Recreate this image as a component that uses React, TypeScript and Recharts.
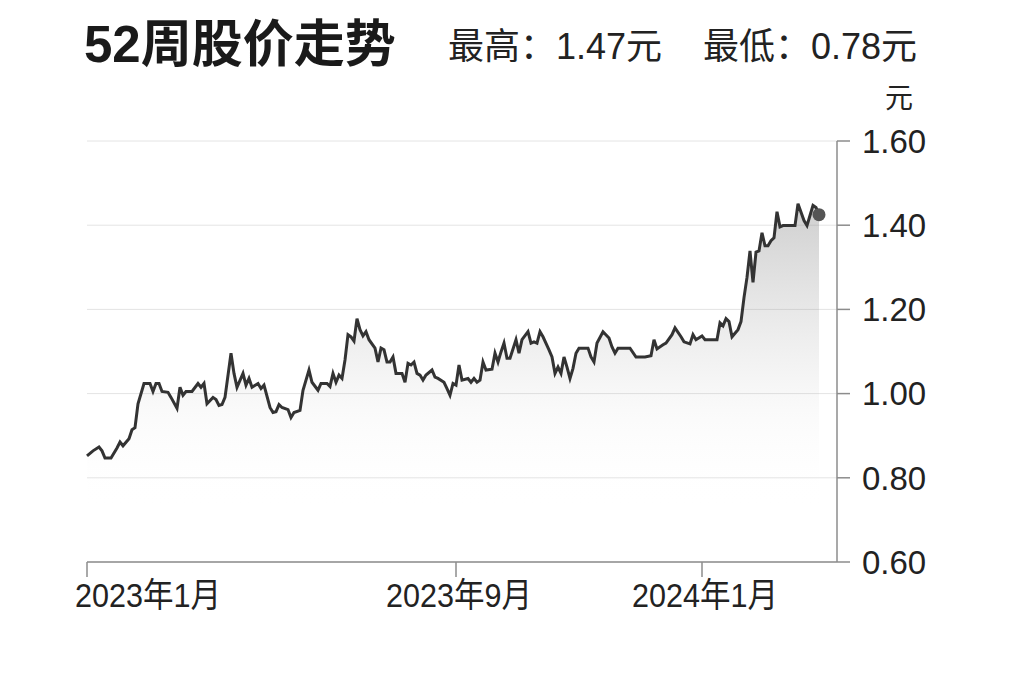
import React from 'react'
import { ComposedChart, Area, XAxis, YAxis, CartesianGrid, ReferenceDot } from 'recharts'

// trading-day index (0 = first session of Jan 2023) and closing price
const days = [
  0, 2, 4, 5, 6, 8, 10, 11, 12, 14, 15, 16, 17, 19, 21, 22, 23, 24, 25, 27, 28, 30, 31, 32, 33, 35, 37, 38, 39, 40,
  42, 43, 44, 45, 46, 48, 49, 50, 52, 53, 54, 55, 57, 58, 59, 61, 62, 63, 64, 65, 67, 68, 69, 71, 72, 73, 74, 75, 77, 78,
  80, 81, 82, 83, 84, 85, 86, 87, 88, 89, 90, 91, 92, 93, 94, 96, 97, 98, 99, 100, 101, 102, 103, 105, 106, 107, 108, 109, 110, 111,
  112, 113, 115, 116, 117, 119, 120, 121, 122, 123, 124, 125, 127, 128, 129, 130, 131, 132, 133, 135, 136, 137, 138, 139, 140, 141, 143, 144, 145, 147,
  148, 149, 150, 151, 152, 154, 155, 156, 157, 158, 159, 160, 161, 162, 163, 164, 165, 167, 168, 169, 170, 172, 174, 175, 176, 177, 179, 181, 183, 184,
  186, 188, 189, 190, 192, 193, 195, 196, 198, 199, 201, 202, 203, 205, 206, 208, 210, 211, 212, 213, 214, 215, 217, 218, 219, 220, 221, 222, 223, 224,
  225, 226, 227, 228, 229, 230, 231, 232, 234, 236, 237, 239, 240, 241, 242, 243, 244,
]

const prices = [
  0.852, 0.864, 0.873, 0.864, 0.847, 0.847, 0.871, 0.885, 0.876, 0.893, 0.914, 0.919, 0.976, 1.024, 1.024, 1.005, 1.024, 1.024, 1.005, 1.003, 0.991, 0.965, 1.015, 0.996, 1.005, 1.005, 1.024, 1.015, 1.024, 0.976,
  0.991, 0.986, 0.972, 0.974, 0.991, 1.096, 1.048, 1.015, 1.048, 1.02, 1.036, 1.015, 1.024, 1.012, 1.02, 0.967, 0.955, 0.957, 0.974, 0.967, 0.962, 0.943, 0.955, 0.96, 1.008, 1.032, 1.056, 1.027, 1.008, 1.024,
  1.024, 1.017, 1.048, 1.027, 1.044, 1.036, 1.08, 1.14, 1.135, 1.125, 1.178, 1.152, 1.137, 1.147, 1.128, 1.108, 1.075, 1.108, 1.104, 1.075, 1.075, 1.087, 1.048, 1.048, 1.027, 1.072, 1.068, 1.075, 1.048, 1.044,
  1.032, 1.044, 1.056, 1.039, 1.036, 1.027, 1.012, 0.996, 1.024, 1.02, 1.068, 1.032, 1.036, 1.027, 1.036, 1.027, 1.032, 1.075, 1.056, 1.058, 1.096, 1.075, 1.099, 1.12, 1.084, 1.084, 1.128, 1.096, 1.128, 1.147,
  1.12, 1.123, 1.12, 1.147, 1.135, 1.104, 1.087, 1.048, 1.063, 1.048, 1.087, 1.063, 1.036, 1.06, 1.096, 1.108, 1.108, 1.108, 1.087, 1.075, 1.12, 1.147, 1.132, 1.111, 1.096, 1.108, 1.108, 1.108, 1.087, 1.087,
  1.087, 1.09, 1.128, 1.106, 1.116, 1.12, 1.14, 1.156, 1.135, 1.123, 1.118, 1.14, 1.128, 1.137, 1.128, 1.128, 1.128, 1.168, 1.161, 1.178, 1.171, 1.135, 1.152, 1.171, 1.228, 1.276, 1.339, 1.264, 1.336, 1.339,
  1.382, 1.351, 1.351, 1.363, 1.37, 1.432, 1.396, 1.399, 1.399, 1.399, 1.451, 1.411, 1.399, 1.423, 1.447, 1.442, 1.425,
]

const tickDays = [0, 123, 205]
const tickLabels = ['2023年1月', '2023年9月', '2024年1月']
const yTicks = [0.6, 0.8, 1.0, 1.2, 1.4, 1.6]

const data = days.map((d, i) => ({ d, v: prices[i] }))
const last = data[data.length - 1]

const FONT = "'Liberation Sans', 'Noto Sans CJK SC', sans-serif"

// the date labels are a condensed face in the original, so squeeze them a little
const DateTick = (props: any) => {
  const { x, y, payload, index } = props
  const first = index === 0
  return (
    <text
      x={first ? x - 12 : x + 3}
      y={y}
      dy="0.71em"
      textAnchor={first ? 'start' : 'middle'}
      fill="#222"
      fontSize={34}
      fontFamily={FONT}
      textLength={146}
      lengthAdjust="spacingAndGlyphs"
    >
      {tickLabels[tickDays.indexOf(payload.value)]}
    </text>
  )
}

export default function App() {
  return (
    <div style={{ position: 'fixed', left: 0, top: 0, width: 1024, height: 682, background: '#fff', fontFamily: FONT }}>
      <div style={{ position: 'absolute', left: 84, top: 17, fontSize: 51, fontWeight: 700, lineHeight: 1.1, color: '#1a1a1a' }}>
        52周股价走势
      </div>
      <div style={{ position: 'absolute', left: 448, top: 27, fontSize: 36, lineHeight: 1.1, color: '#222' }}>
        最高：1.47元
      </div>
      <div style={{ position: 'absolute', left: 703, top: 27, fontSize: 36, lineHeight: 1.1, color: '#222' }}>
        最低：0.78元
      </div>
      <div style={{ position: 'absolute', left: 885, top: 84, fontSize: 28, lineHeight: 1.1, color: '#222' }}>元</div>

      <ComposedChart
        width={1024}
        height={682}
        data={data}
        margin={{ top: 141, right: 0, bottom: 60, left: 87 }}
        style={{ position: 'absolute', left: 0, top: 0 }}
      >
        <defs>
          <linearGradient id="areaFill" x1="0" y1="0" x2="0" y2="1">
            <stop offset="0%" stopColor="#7a7a7a" stopOpacity={0.6} />
            <stop offset="38%" stopColor="#8a8a8a" stopOpacity={0.24} />
            <stop offset="58%" stopColor="#9a9a9a" stopOpacity={0.08} />
            <stop offset="85%" stopColor="#ffffff" stopOpacity={0} />
          </linearGradient>
        </defs>
        <CartesianGrid vertical={false} stroke="#e4e4e4" />
        <XAxis
          dataKey="d"
          type="number"
          domain={[0, 250]}
          ticks={tickDays}
          interval={0}
          height={60}
          tickSize={15}
          tickMargin={6}
          axisLine={{ stroke: '#8c8c8c', strokeWidth: 1.5 }}
          tickLine={{ stroke: '#8c8c8c', strokeWidth: 1.5 }}
          tick={<DateTick />}
        />
        <YAxis
          orientation="right"
          width={187}
          domain={[0.6, 1.6]}
          ticks={yTicks}
          interval={0}
          tickSize={13}
          tickMargin={12}
          tickFormatter={(v: number) => v.toFixed(2)}
          axisLine={{ stroke: '#8c8c8c', strokeWidth: 1.5 }}
          tickLine={{ stroke: '#8c8c8c', strokeWidth: 1.5 }}
          tick={{ fill: '#222', fontSize: 33, fontFamily: FONT }}
        />
        <Area
          type="linear"
          dataKey="v"
          stroke="#333"
          strokeWidth={3}
          fill="url(#areaFill)"
          dot={false}
          activeDot={false}
          isAnimationActive={false}
        />
        <ReferenceDot x={last.d} y={last.v} r={6.5} fill="#555" stroke="none" />
      </ComposedChart>
    </div>
  )
}
